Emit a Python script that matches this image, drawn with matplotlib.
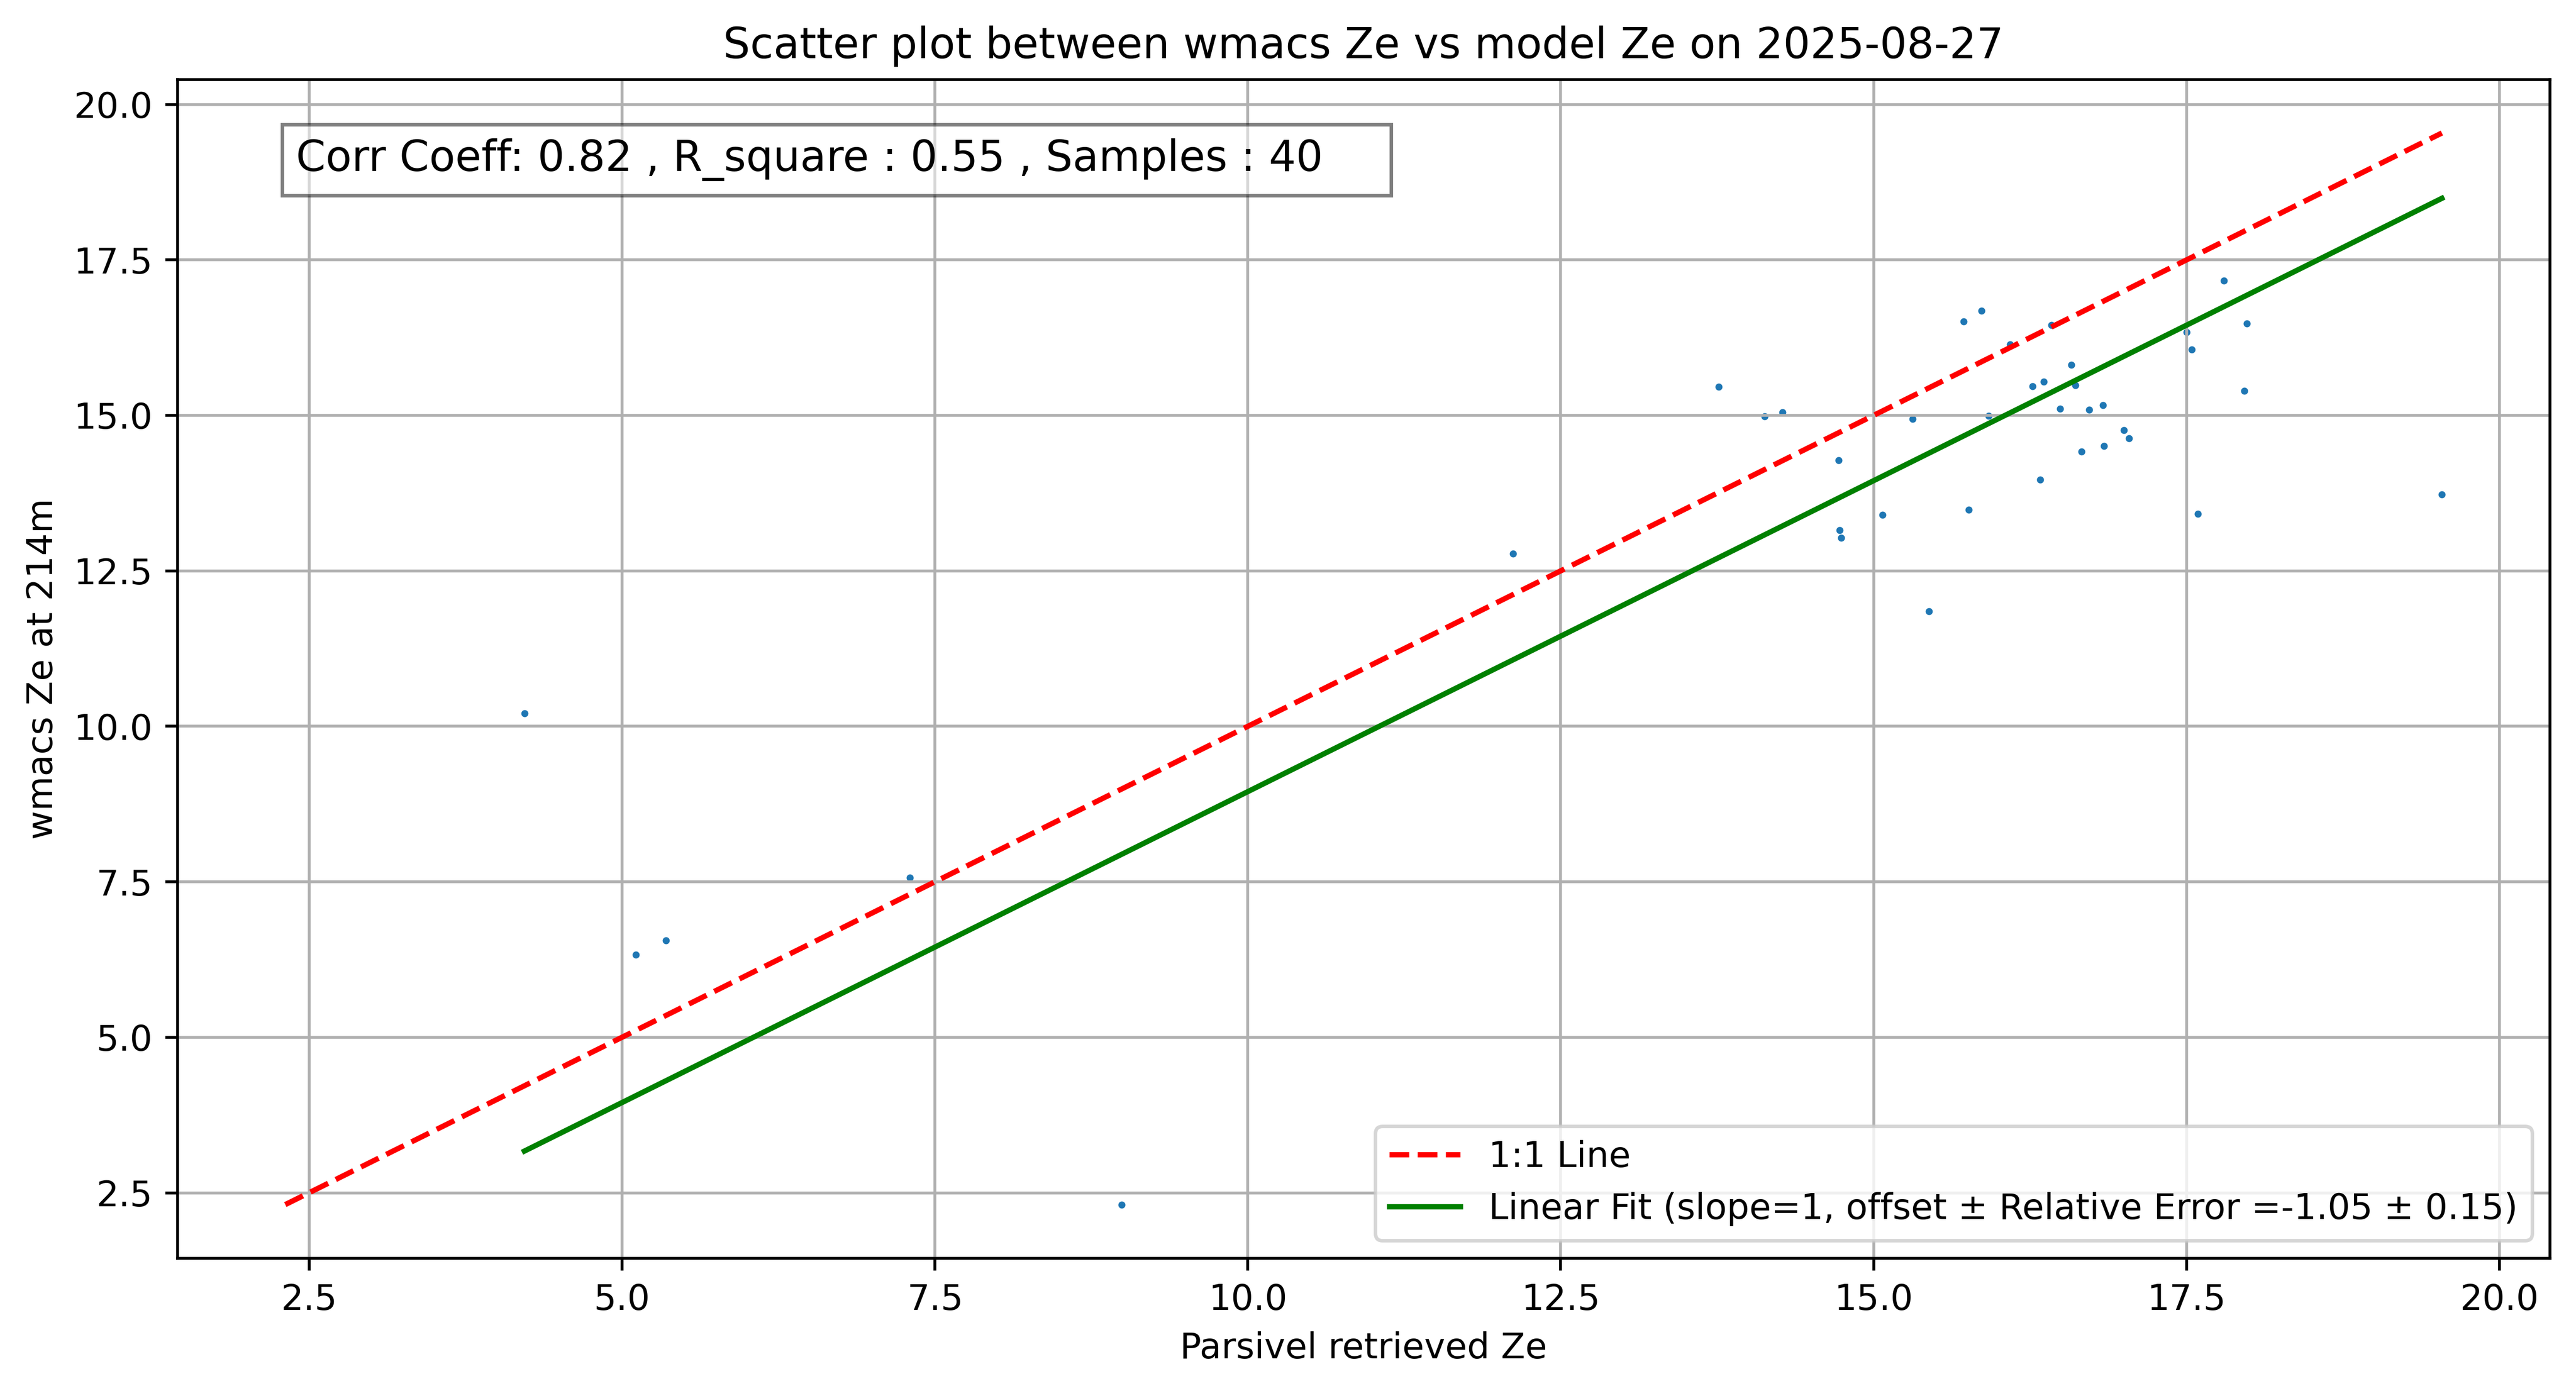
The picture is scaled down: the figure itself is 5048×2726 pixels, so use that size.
import matplotlib
matplotlib.use('Agg')
import matplotlib.pyplot as plt
import numpy as np

# значения
parsivel_ze = [4.22, 5.11, 5.35, 7.30, 8.99, 12.12, 13.76, 14.13, 14.27, 14.72,
               14.73, 14.74, 15.07, 15.31, 15.44, 15.72, 15.76, 15.86, 15.92, 16.09,
               16.27, 16.33, 16.36, 16.42, 16.49, 16.58, 16.61, 16.66, 16.72, 16.83,
               16.84, 17.00, 17.04, 17.50, 17.54, 17.59, 17.80, 17.96, 17.98, 19.54]
wmacs_ze = [10.21, 6.33, 6.56, 7.57, 2.31, 12.78, 15.46, 14.98, 15.05, 14.28,
            13.15, 13.03, 13.40, 14.94, 11.85, 16.51, 13.48, 16.68, 14.99, 16.14,
            15.47, 13.97, 15.54, 16.45, 15.11, 15.81, 15.48, 14.42, 15.09, 15.16,
            14.51, 14.76, 14.63, 16.34, 16.06, 13.42, 17.17, 15.39, 16.48, 13.73]

corr_coeff = 0.82
r_square = 0.55
offset = -1.05
rel_error = 0.15
date = '2025-08-27'

x = np.array(parsivel_ze)
y = np.array(wmacs_ze)

fig = plt.figure(figsize=(5048 / 500, 2726 / 500), dpi=500)
ax = fig.add_axes([0.0689, 0.0955, 0.9209, 0.8474])

ax.scatter(x, y, s=1)

lo = min(x.min(), y.min())
hi = max(x.max(), y.max())
ax.plot([lo, hi], [lo, hi], 'r--', label='1:1 Line')

xs = np.sort(x)
ax.plot(xs, xs + offset, 'g-',
        label=f'Linear Fit (slope=1, offset \u00b1 Relative Error ={offset:.2f} \u00b1 {rel_error:.2f})')

ax.text(0.05, 0.95, f'Corr Coeff: {corr_coeff:.2f} , R_square : {r_square:.2f} , Samples : {len(x)}    ',
        transform=ax.transAxes, fontsize=12, verticalalignment='top',
        bbox=dict(facecolor='white', alpha=0.5))

ax.set_title(f'Scatter plot between wmacs Ze vs model Ze on {date}')
ax.set_xlabel('Parsivel retrieved Ze')
ax.set_ylabel('wmacs Ze at 214m')
ax.legend(loc='lower right')
ax.grid(True)

fig.savefig('out.png', dpi=500)
